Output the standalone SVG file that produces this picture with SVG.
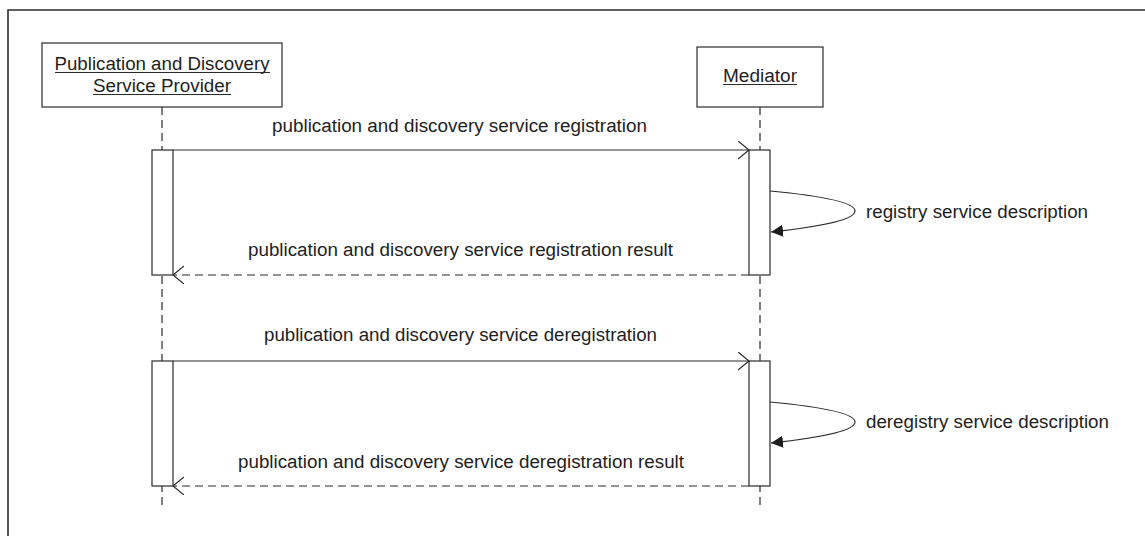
<svg xmlns="http://www.w3.org/2000/svg" width="1145" height="536" viewBox="0 0 1145 536">
<defs>
<style>
.ln{stroke:#2b2b2b;stroke-width:1.2;fill:none}
.dash{stroke:#2b2b2b;stroke-width:1.2;fill:none;stroke-dasharray:8 5}
.box{fill:#fff;stroke:#2b2b2b;stroke-width:1.2}
.t{font-family:"Liberation Sans",Arial,sans-serif;font-size:18px;fill:#1e1e1e}
.frame{stroke:#2b2b2b;stroke-width:1.6;fill:none}
</style>
<marker id="open" markerWidth="14" markerHeight="20" refX="11" refY="9" orient="auto" markerUnits="userSpaceOnUse">
<path d="M0,0 L11,9 L0,18" fill="none" stroke="#2b2b2b" stroke-width="1.2"/>
</marker>
<marker id="filled" markerWidth="16" markerHeight="14" refX="12" refY="6" orient="auto" markerUnits="userSpaceOnUse">
<path d="M0,0 L12,6 L0,12 Z" fill="#1e1e1e"/>
</marker>
</defs>
<rect width="1145" height="536" fill="#fff"/>
<path class="frame" d="M8,536 L8,10 L1145,10"/>

<g id="lifelines">
<line class="dash" x1="162" y1="107" x2="162" y2="508"/>
<line class="dash" x1="760" y1="107" x2="760" y2="508"/>
</g>

<g id="provider">
<rect class="box" x="42" y="43" width="240" height="64"/>
<text class="t" x="162" y="70" text-anchor="middle" textLength="215" lengthAdjust="spacingAndGlyphs">Publication and Discovery</text>
<line class="ln" x1="55" y1="72.5" x2="270" y2="72.5"/>
<text class="t" x="162" y="92" text-anchor="middle" textLength="138" lengthAdjust="spacingAndGlyphs">Service Provider</text>
<line class="ln" x1="93" y1="94.5" x2="231" y2="94.5"/>
</g>

<g id="mediator">
<rect class="box" x="697" y="47" width="126" height="60"/>
<text class="t" x="760" y="82" text-anchor="middle" textLength="74" lengthAdjust="spacingAndGlyphs">Mediator</text>
<line class="ln" x1="723" y1="84.5" x2="797" y2="84.5"/>
</g>

<g id="activations">
<rect class="box" x="152" y="150" width="21" height="125"/>
<rect class="box" x="749" y="150" width="21" height="125"/>
<rect class="box" x="152" y="361" width="21" height="125"/>
<rect class="box" x="749" y="361" width="21" height="125"/>
</g>

<g id="connectors">
<line class="ln" x1="173" y1="150" x2="749" y2="150" marker-end="url(#open)"/>
<path class="ln" d="M770,191 Q855,199 855,211 Q855,223 771,232" marker-end="url(#filled)"/>
<line class="dash" x1="749" y1="275" x2="173" y2="275" marker-end="url(#open)"/>
<line class="ln" x1="173" y1="361" x2="749" y2="361" marker-end="url(#open)"/>
<path class="ln" d="M770,402 Q855,410 855,422 Q855,434 771,443" marker-end="url(#filled)"/>
<line class="dash" x1="749" y1="486" x2="173" y2="486" marker-end="url(#open)"/>
</g>

<g id="labels">
<text class="t" x="272" y="132" textLength="375" lengthAdjust="spacingAndGlyphs">publication and discovery service registration</text>
<text class="t" x="866" y="218" textLength="222" lengthAdjust="spacingAndGlyphs">registry service description</text>
<text class="t" x="248" y="256" textLength="425" lengthAdjust="spacingAndGlyphs">publication and discovery service registration result</text>
<text class="t" x="264" y="341" textLength="393" lengthAdjust="spacingAndGlyphs">publication and discovery service deregistration</text>
<text class="t" x="866" y="428" textLength="243" lengthAdjust="spacingAndGlyphs">deregistry service description</text>
<text class="t" x="238" y="468" textLength="446" lengthAdjust="spacingAndGlyphs">publication and discovery service deregistration result</text>
</g>
</svg>
